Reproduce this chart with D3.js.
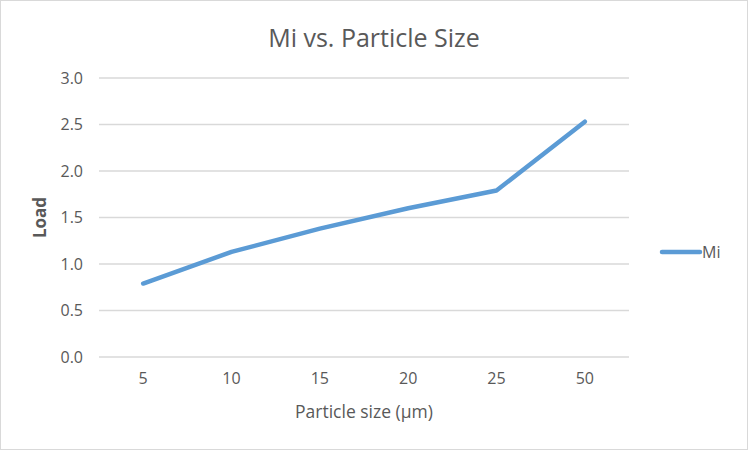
<!DOCTYPE html>
<html><head><meta charset="utf-8">
<script src="https://cdn.jsdelivr.net/npm/d3@7"></script>
<style>body{margin:0;background:#fff;}svg{display:block;font-family:"Open Sans",sans-serif;}</style>
</head><body>
<script>
const categories = ["5","10","15","20","25","50"];
const seriesName = "Mi";
const values = [0.79, 1.13, 1.38, 1.60, 1.79, 2.53];
const yTicks = [0,0.5,1.0,1.5,2.0,2.5,3.0];
const title = "Mi vs. Particle Size";
const xTitle = "Particle size (µm)";
const yTitle = "Load";

const W=748,H=450;
const m={left:99,right:119,top:78,bottom:93};
const svg=d3.select("body").append("svg").attr("width",W).attr("height",H);
svg.append("rect").attr("x",0.5).attr("y",0.5).attr("width",W-1).attr("height",H-1).attr("fill","#fff").attr("stroke","#d9d9d9");

const x=d3.scaleBand().domain(categories).range([m.left,W-m.right]);
const y=d3.scaleLinear().domain([0,3]).range([H-m.bottom,m.top]);

svg.append("g").selectAll("line").data(yTicks).join("line")
  .attr("x1",m.left).attr("x2",W-m.right)
  .attr("y1",d=>y(d)).attr("y2",d=>y(d))
  .attr("stroke","#d9d9d9").attr("stroke-width",1.3);

const ya=svg.append("g").attr("transform",`translate(${m.left},0)`)
  .call(d3.axisLeft(y).tickValues(yTicks).tickFormat(d3.format(".1f")).tickSize(0).tickPadding(16));
ya.select(".domain").remove();
ya.selectAll("text").attr("fill","#595959").style("font-size","16px").style("font-family","'Open Sans',sans-serif");

const xa=svg.append("g").attr("transform",`translate(0,${H-m.bottom})`)
  .call(d3.axisBottom(x).tickSize(0).tickPadding(16));
xa.select(".domain").remove();
xa.selectAll("text").attr("fill","#595959").style("font-size","16px").style("font-family","'Open Sans',sans-serif");

const line=d3.line().x((d,i)=>x(categories[i])+x.bandwidth()/2).y(d=>y(d));
svg.append("path").datum(values).attr("d",line).attr("fill","none")
  .attr("stroke","#5b9bd5").attr("stroke-width",4.5).attr("stroke-linejoin","round").attr("stroke-linecap","round");

svg.append("text").attr("x",374).attr("y",47).attr("text-anchor","middle")
  .attr("fill","#595959").style("font-size","25px").text(title);
svg.append("text").attr("x",364).attr("y",418).attr("text-anchor","middle")
  .attr("fill","#595959").style("font-size","17.5px").text(xTitle);
svg.append("text").attr("transform",`translate(46,${(y(0)+y(3))/2}) rotate(-90)`).attr("text-anchor","middle")
  .attr("fill","#595959").style("font-size","17px").style("font-weight","bold").text(yTitle);

svg.append("line").attr("x1",662).attr("x2",700).attr("y1",252).attr("y2",252)
  .attr("stroke","#5b9bd5").attr("stroke-width",4.5).attr("stroke-linecap","round");
svg.append("text").attr("x",702).attr("y",258).attr("fill","#595959").style("font-size","16px").text(seriesName);
</script>
</body></html>
